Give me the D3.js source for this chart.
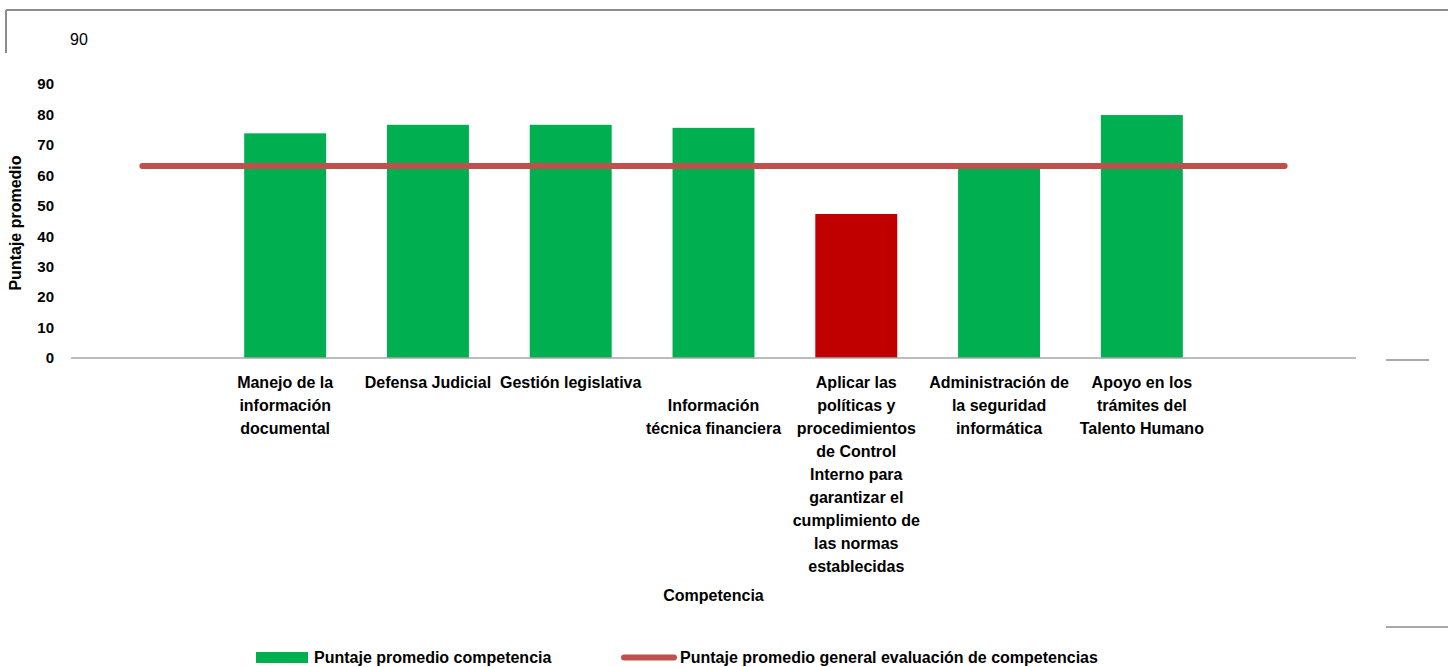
<!DOCTYPE html>
<html>
<head>
<meta charset="utf-8">
<script src="https://cdn.jsdelivr.net/npm/d3@7/dist/d3.min.js"></script>
<style>
  html, body { margin: 0; padding: 0; background: #fff; }
  svg { display: block; }
  text { font-family: "Liberation Sans", Arial, sans-serif; fill: #000; }
</style>
</head>
<body>
<svg id="chart" width="1448" height="667"></svg>
<script>
// ---- data ----
const categories = [
  "Manejo de la información documental",
  "Defensa Judicial",
  "Gestión legislativa",
  "Información técnica financiera",
  "Aplicar las políticas y procedimientos de Control Interno para garantizar el cumplimiento de las normas establecidas",
  "Administración de la seguridad informática",
  "Apoyo en los trámites del Talento Humano"
];
const labelLines = [
  ["Manejo de la", "información", "documental"],
  ["Defensa Judicial"],
  ["Gestión legislativa"],
  ["", "Información", "técnica financiera"],
  ["Aplicar las", "políticas y", "procedimientos", "de Control", "Interno para", "garantizar el", "cumplimiento de", "las normas", "establecidas"],
  ["Administración de", "la seguridad", "informática"],
  ["Apoyo en los", "trámites del", "Talento Humano"]
];
const scores = [73.8, 76.6, 76.6, 75.6, 47.3, 63.5, 79.8];
const generalAverage = 63.1;
const yTicks = [0, 10, 20, 30, 40, 50, 60, 70, 80, 90];
const seriesNames = ["Puntaje promedio competencia", "Puntaje promedio general evaluación de competencias"];

// ---- drawing ----
const svg = d3.select("#chart");
const green = "#00B050", redBar = "#C00000", lineRed = "#C0504D", frame = "#8C8C8C";
const FONT = "'Liberation Sans', Arial, sans-serif";

const slots = ["__start", ...categories, "__end"];
const x = d3.scaleBand().domain(slots).range([71, 1356]).paddingInner(0.426).paddingOuter(0.213);
const y = d3.scaleLinear().domain([0, 90]).range([358, 84]);

// outer frame fragments
svg.append("line").attr("x1", 6).attr("x2", 1448).attr("y1", 10).attr("y2", 10)
  .attr("stroke", frame).attr("stroke-width", 2);
svg.append("line").attr("x1", 6).attr("x2", 6).attr("y1", 10).attr("y2", 53)
  .attr("stroke", frame).attr("stroke-width", 2);
svg.append("line").attr("x1", 1386).attr("x2", 1429).attr("y1", 360).attr("y2", 360)
  .attr("stroke", frame).attr("stroke-width", 1.5);
svg.append("line").attr("x1", 1386).attr("x2", 1448).attr("y1", 627).attr("y2", 627)
  .attr("stroke", frame).attr("stroke-width", 1.5);

svg.append("text").attr("x", 70).attr("y", 45).attr("font-size", 16).text("90");

// y axis (labels only)
const yAxis = d3.axisLeft(y).tickValues(yTicks).tickSize(0).tickPadding(0);
const gy = svg.append("g").attr("transform", "translate(54,0)").call(yAxis);
gy.select(".domain").remove();
gy.selectAll("text").attr("font-size", 15).attr("font-weight", "bold")
  .attr("font-family", FONT).attr("fill", "#000");

svg.append("text")
  .attr("transform", `translate(21,${(y(0) + y(90)) / 2 + 2}) rotate(-90)`)
  .attr("text-anchor", "middle").attr("font-size", 16).attr("font-weight", "bold")
  .text("Puntaje promedio");

// bars
svg.append("g").selectAll("rect").data(categories).join("rect")
  .attr("x", d => x(d))
  .attr("width", x.bandwidth())
  .attr("y", (d, i) => y(scores[i]))
  .attr("height", (d, i) => y(0) - y(scores[i]))
  .attr("fill", (d, i) => scores[i] < generalAverage ? redBar : green);

// baseline
svg.append("line").attr("x1", 71).attr("x2", 1356).attr("y1", y(0)).attr("y2", y(0))
  .attr("stroke", "#A6A6A6").attr("stroke-width", 1.5);

// average line
const lineData = slots.map(s => [x(s) + x.bandwidth() / 2, y(generalAverage)]);
svg.append("path").attr("d", d3.line()([lineData[0], lineData[lineData.length - 1]]))
  .attr("stroke", lineRed).attr("stroke-width", 6).attr("stroke-linecap", "round").attr("fill", "none");

// category labels
const lg = svg.append("g");
categories.forEach((c, i) => {
  const cx = x(c) + x.bandwidth() / 2;
  labelLines[i].forEach((ln, j) => {
    if (!ln) return;
    lg.append("text").attr("x", cx).attr("y", 388 + j * 23)
      .attr("text-anchor", "middle").attr("font-size", 16).attr("font-weight", "bold").text(ln);
  });
});

svg.append("text").attr("x", (71 + 1356) / 2).attr("y", 601)
  .attr("text-anchor", "middle").attr("font-size", 16).attr("font-weight", "bold").text("Competencia");

// legend
svg.append("rect").attr("x", 256).attr("y", 652).attr("width", 52).attr("height", 11).attr("fill", green);
svg.append("text").attr("x", 314).attr("y", 663).attr("font-size", 16).attr("font-weight", "bold").text(seriesNames[0]);
svg.append("line").attr("x1", 624).attr("x2", 674).attr("y1", 657.5).attr("y2", 657.5)
  .attr("stroke", lineRed).attr("stroke-width", 6).attr("stroke-linecap", "round");
svg.append("text").attr("x", 680).attr("y", 663).attr("font-size", 16).attr("font-weight", "bold").text(seriesNames[1]);
</script>
</body>
</html>
